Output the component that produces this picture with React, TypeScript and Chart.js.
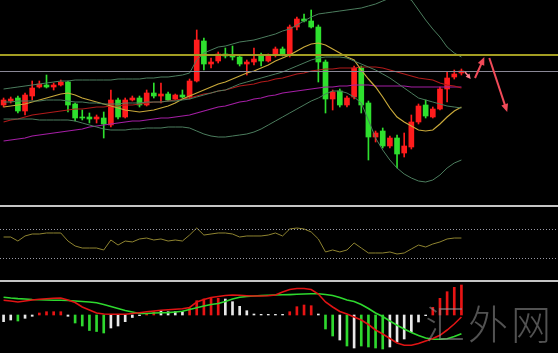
import React, { useEffect, useRef } from "react";
import { Chart, registerables } from "chart.js";

Chart.register(...registerables);

// ---------- data ----------
const slotCount = 78;
const categories: string[] = Array.from({ length: slotCount }, (_, i) => String(i + 1));

const openP = [100,104,107,94,109,118,120,118,120,123,101,88,88,86,87,80,105,88,105,107,100,112,109,111,106,110,108,124,164,141,144,151,150,148,141,143,150,144,150,156,150,178,186,184,178,143,106,114,100,108,137,102,68,74,59,67,52,58,83,100,88,96,116,128,132];
const closeP = [105,106,94,110,117,121,118,120,123,100,87,87,86,88,81,105,88,105,107,100,112,109,111,105,110,108,124,165,141,143,151,149,148,141,143,146,144,150,156,150,178,186,184,178,143,106,113,100,107,137,100,68,72,59,67,51,59,83,99,89,96,116,127,131,134];
const highP = [107,108,109,112,124,124,130,122,125,124,102,95,92,90,93,115,107,107,109,109,115,122,122,113,111,115,126,175,167,147,153,157,159,150,145,157,152,151,158,158,180,188,191,195,180,145,115,116,109,139,139,104,74,77,69,70,72,90,101,105,98,118,133,135,136];
const lowP = [98,102,92,90,105,117,117,115,119,93,84,85,82,82,67,78,86,87,104,98,99,107,102,104,105,107,106,123,135,137,142,147,145,139,130,140,139,143,148,149,148,175,183,177,123,92,95,98,98,106,92,45,63,57,57,37,48,56,81,87,87,95,103,126,130];

const maYellow = [98,99,100,101,103,105,107,109,111,112,110,107,105,103,101,99,97,95,94,93,94,95,97,99,102,106,109,112,115,118,121,123,126,129,132,134,137,140,144,147,150,154,158,161,162,160,156,152,148,145,135,126,118,108,97,88,83,79,75,74,75,81,88,94,98];
const maRed = [83,85,86,88,90,91,92,93,94,95,96,96,97,98,98,99,99,100,100,101,102,103,103,104,105,106,107,109,111,112,114,115,117,119,120,121,123,124,126,127,129,131,132,134,135,136,136,137,137,137,138,138,138,137,135,133,131,129,127,126,125,122,120,119,117];
const maPurple = [64,65,66,67,69,70,71,72,73,74,75,76,78,79,80,81,82,83,84,84,85,86,87,87,88,89,90,92,94,96,98,99,101,103,104,106,107,109,110,112,113,114,115,116,117,118,118,119,119,120,120,120,119,119,119,119,119,118,118,118,118,118,118,118,118];
const bbUpper = [116,117,118,119,120,121,122,123,124,124,125,125,125,125,125,125,126,126,126,126,127,127,128,128,129,130,132,145,152,155,158,159,161,163,164,165,167,169,171,174,176,180,184,188,191,192,193,194,195,196,197,199,201,204,207,208,207,205,195,185,176,168,158,152,148];
const bbMid = [103,103,104,104,104,104,105,105,105,104,103,103,102,102,101,101,101,102,102,102,103,103,103,104,104,105,106,108,110,112,114,115,118,121,123,125,127,129,131,133,136,139,142,145,147,148,148,148,147,144,141,138,135,131,127,122,117,112,107,105,103,101,99,98,97];
const bbLower = [86,86,86,86,86,85,85,85,85,85,84,82,80,78,76,75,75,75,76,76,77,77,77,78,78,78,77,74,71,69,68,68,69,70,71,73,76,80,84,88,92,96,100,104,107,111,114,114,112,108,102,85,67,55,45,37,31,27,24,23,25,30,37,42,45];

const priceLevels = [150, 134.5];

const arrowFromX = [64.5, 65.9, 67.9];
const arrowFromV = [133, 127, 147];
const arrowToX = [65.3, 67.2, 70.4];
const arrowToV = [126, 148, 93];

const rsi = [58.9,58.9,53.4,60.3,63.0,63.0,64.4,64.4,64.4,53.4,46.6,43.8,43.8,43.8,41.1,54.8,47.9,53.4,52.1,56.2,57.5,54.8,56.2,53.4,54.8,53.4,61.6,71.2,61.6,63.0,64.4,64.4,63.0,58.9,60.3,60.3,60.3,61.6,64.4,60.3,69.9,71.2,69.9,65.8,56.2,38.4,41.1,38.4,41.1,50.7,43.8,37.0,37.0,37.0,38.4,35.6,37.0,42.5,47.9,45.2,49.3,52.1,56.2,57.5,57.5];
const rsiLevels = [70, 30];

const macdHist = [-0.67,-0.5,-0.6,-0.33,-0.13,0.2,0.33,0.33,0.33,-0.13,-0.8,-1.1,-1.55,-1.65,-1.8,-1.3,-1.1,-0.67,-0.25,-0.07,0.15,0.33,0.43,0.33,0.33,0.33,0.67,1.43,1.6,1.67,1.67,1.6,1.33,0.87,0.43,0.1,0.07,0.07,0.07,0.07,0.33,0.83,1.0,0.93,0.1,-1.4,-2.1,-2.5,-3.1,-3.3,-3.1,-3.2,-3.3,-3.4,-3.2,-2.7,-2.4,-1.7,-0.7,-0.07,0.77,1.67,2.33,2.77,3.0];
const macdHistKind = ["W","W","G","W","W","R","R","R","R","W","G","G","G","G","G","W","W","W","W","W","R","R","W","W","W","W","R","R","R","R","R","W","W","W","W","W","W","W","W","W","R","R","R","R","W","G","G","W","G","W","G","G","G","G","W","W","W","W","W","W","R","R","R","R","R"];
const macdRed = [1.47,1.40,1.30,1.40,1.50,1.57,1.62,1.67,1.70,1.50,1.25,0.80,0.50,0.20,0.10,0.08,0.07,0.07,0.15,0.23,0.32,0.40,0.47,0.52,0.57,0.62,0.75,1.30,1.55,1.75,1.85,1.95,2.00,1.97,1.93,1.90,1.90,1.92,2.00,2.30,2.55,2.65,2.65,2.55,2.10,1.30,0.80,0.35,0.10,-0.20,-0.50,-0.95,-1.50,-1.90,-2.35,-2.80,-3.03,-3.03,-2.85,-2.60,-2.35,-2.03,-1.50,-0.90,-0.20];
const macdGreen = [1.78,1.70,1.64,1.60,1.55,1.52,1.50,1.48,1.47,1.45,1.40,1.35,1.30,1.23,1.05,0.85,0.65,0.45,0.30,0.15,0.15,0.20,0.22,0.24,0.30,0.37,0.55,0.73,0.90,1.05,1.15,1.35,1.60,1.77,1.85,1.90,1.95,1.98,2.00,2.02,2.04,2.07,2.10,2.12,2.12,2.05,1.95,1.75,1.50,1.35,1.05,0.65,0.20,-0.15,-0.60,-1.03,-1.40,-1.75,-2.05,-2.30,-2.43,-2.43,-2.37,-2.15,-1.87];

// ---------- styles ----------
const UP = "#ff1c1c";
const DOWN = "#2ee02e";
const histColors: Record<string, string> = { W: "#e8e8e8", G: "#2ed82e", R: "#e81414" };

function hLinePlugin(id: string, values: number[], colors: string[], widths: number[], dashes: number[][]) {
  return {
    id,
    afterDatasetsDraw(chart: any) {
      const { ctx, chartArea, scales } = chart;
      values.forEach((v, k) => {
        const y = Math.round(scales.y.getPixelForValue(v)) + (widths[k] % 2 ? 0.5 : 0);
        ctx.save();
        ctx.strokeStyle = colors[k];
        ctx.lineWidth = widths[k];
        ctx.setLineDash(dashes[k]);
        ctx.beginPath();
        ctx.moveTo(chartArea.left, y);
        ctx.lineTo(chartArea.right, y);
        ctx.stroke();
        ctx.restore();
      });
    },
  };
}

const arrowPlugin = {
  id: "arrows",
  afterDatasetsDraw(chart: any) {
    const { ctx, scales } = chart;
    arrowFromX.forEach((fx, k) => {
      const x1 = scales.x.getPixelForValue(fx);
      const y1 = scales.y.getPixelForValue(arrowFromV[k]);
      const x2 = scales.x.getPixelForValue(arrowToX[k]);
      const y2 = scales.y.getPixelForValue(arrowToV[k]);
      const ang = Math.atan2(y2 - y1, x2 - x1);
      const head = k === 0 ? 5 : 8;
      const half = k === 0 ? 2.5 : 3.5;
      ctx.save();
      ctx.strokeStyle = k === 0 ? "#ff7f8c" : "#f04a58";
      ctx.fillStyle = ctx.strokeStyle;
      ctx.lineWidth = k === 0 ? 1.5 : 2;
      ctx.beginPath();
      ctx.moveTo(x1, y1);
      ctx.lineTo(x2 - Math.cos(ang) * head * 0.7, y2 - Math.sin(ang) * head * 0.7);
      ctx.stroke();
      ctx.beginPath();
      ctx.moveTo(x2, y2);
      ctx.lineTo(x2 - Math.cos(ang) * head + Math.sin(ang) * half, y2 - Math.sin(ang) * head - Math.cos(ang) * half);
      ctx.lineTo(x2 - Math.cos(ang) * head - Math.sin(ang) * half, y2 - Math.sin(ang) * head + Math.cos(ang) * half);
      ctx.closePath();
      ctx.fill();
      ctx.restore();
    });
  },
};

function lineDs(data: number[], color: string, width = 1, order = 0) {
  return {
    type: "line" as const,
    data,
    borderColor: color,
    borderWidth: width,
    pointRadius: 0,
    tension: 0,
    fill: false,
    order,
  };
}

const xScale = { display: false, offset: true, grid: { display: false } };

export default function App() {
  const mainRef = useRef<HTMLCanvasElement>(null);
  const rsiRef = useRef<HTMLCanvasElement>(null);
  const macdRef = useRef<HTMLCanvasElement>(null);

  useEffect(() => {
    document.body.style.margin = "0";
    document.body.style.background = "#000";
    const charts: Chart[] = [];
    const candleColors = openP.map((o, i) => (closeP[i] >= o ? UP : DOWN));
    const common = {
      animation: false as const,
      responsive: false,
      devicePixelRatio: 1,
      layout: { padding: 0 },
      plugins: { legend: { display: false }, tooltip: { enabled: false } },
      events: [] as any[],
    };

    if (mainRef.current) {
      charts.push(
        new Chart(mainRef.current, {
          type: "bar",
          data: {
            labels: categories,
            datasets: [
              lineDs(bbUpper, "#4c7d5e", 1, 0),
              lineDs(bbMid, "#4c7d5e", 1, 0),
              lineDs(bbLower, "#4c7d5e", 1, 0),
              lineDs(maYellow, "#c9a93a", 1.2, 0),
              lineDs(maRed, "#b01a1a", 1.2, 0),
              lineDs(maPurple, "#a41ea4", 1.2, 0),
              {
                type: "bar" as const,
                data: openP.map((o, i) => [Math.min(o, closeP[i]), Math.max(o, closeP[i])]),
                backgroundColor: candleColors,
                borderWidth: 0,
                barThickness: 5,
                grouped: false,
                order: 1,
              } as any,
              {
                type: "bar" as const,
                data: lowP.map((l, i) => [l, highP[i]]),
                backgroundColor: candleColors,
                borderWidth: 0,
                barThickness: 1,
                grouped: false,
                order: 2,
              } as any,
            ],
          },
          options: {
            ...common,
            scales: { x: xScale, y: { display: false, min: 0, max: 205 } },
          } as any,
          plugins: [
            hLinePlugin("priceLevels", priceLevels, ["#a39d22", "#8a8896"], [2, 1], [[], []]),
            arrowPlugin,
          ],
        })
      );
    }

    if (rsiRef.current) {
      charts.push(
        new Chart(rsiRef.current, {
          type: "line",
          data: {
            labels: categories,
            datasets: [lineDs(rsi, "#8f8430", 1, 0)],
          },
          options: {
            ...common,
            scales: { x: xScale, y: { display: false, min: 0, max: 100 } },
          } as any,
          plugins: [hLinePlugin("rsiLevels", rsiLevels, ["#9a9aa6", "#9a9aa6"], [1, 1], [[1, 2], [1, 2]])],
        })
      );
    }

    if (macdRef.current) {
      charts.push(
        new Chart(macdRef.current, {
          type: "bar",
          data: {
            labels: categories,
            datasets: [
              lineDs(macdRed, "#e01414", 1.6, 0),
              lineDs(macdGreen, "#2ed82e", 1.6, 0),
              {
                type: "bar" as const,
                data: macdHist,
                backgroundColor: macdHistKind.map((k) => histColors[k]),
                borderWidth: 0,
                barThickness: 2,
                grouped: false,
                order: 1,
              } as any,
            ],
          },
          options: {
            ...common,
            scales: { x: xScale, y: { display: false, min: -3.8, max: 3.3 } },
          } as any,
        })
      );
    }

    return () => charts.forEach((c) => c.destroy());
  }, []);

  return (
    <div style={{ position: "relative", width: 558, height: 353, background: "#000", overflow: "hidden" }}>
      <canvas ref={mainRef} width={558} height={205} style={{ position: "absolute", left: 0, top: 0 }} />
      <div style={{ position: "absolute", left: 0, top: 205, width: 558, height: 2, background: "#c4c4c4" }} />
      <canvas ref={rsiRef} width={558} height={73} style={{ position: "absolute", left: 0, top: 207 }} />
      <div style={{ position: "absolute", left: 0, top: 280, width: 558, height: 2, background: "#c4c4c4" }} />
      <canvas ref={macdRef} width={558} height={71} style={{ position: "absolute", left: 0, top: 282 }} />
      <div
        style={{
          position: "absolute",
          left: 425,
          top: 302,
          fontFamily: '"Noto Sans CJK SC", sans-serif',
          fontWeight: 300,
          fontSize: 40,
          lineHeight: "40px",
          letterSpacing: 3,
          color: "rgba(150,150,150,0.55)",
          whiteSpace: "nowrap",
        }}
      >
        汇外网
      </div>
    </div>
  );
}
